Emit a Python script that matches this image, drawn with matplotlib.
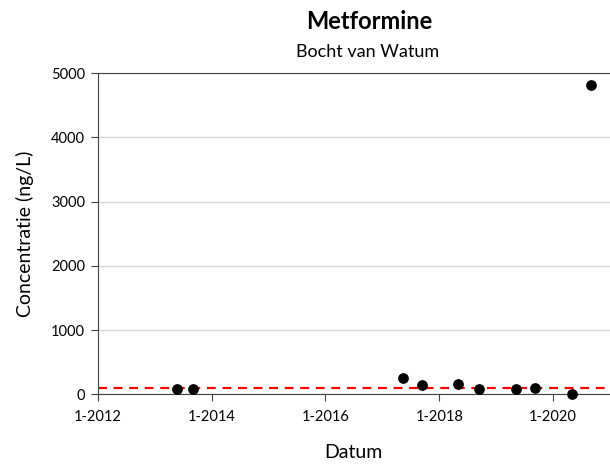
import matplotlib
matplotlib.use("Agg")
import matplotlib.pyplot as plt
import pandas as pd

dates = ["2013-05-25", "2013-09-01", "2017-05-15", "2017-09-12", "2018-05-03",
         "2018-09-13", "2019-05-10", "2019-09-05", "2020-05-03", "2020-09-01"]
values = [83, 83, 254, 140, 156, 83, 83, 93, 0, 4820]
norm_value = 100
x_ticks = ["2012-01-01", "2014-01-01", "2016-01-01", "2018-01-01", "2020-01-01"]
x_tick_labels = ["1-2012", "1-2014", "1-2016", "1-2018", "1-2020"]
y_ticks = [0, 1000, 2000, 3000, 4000, 5000]

plt.rcParams['font.family'] = ['Lato', 'DejaVu Sans']

fig = plt.figure(figsize=(6.10, 4.66), dpi=100)
ax = fig.add_axes([0.16, 0.154, 0.84, 0.689])

d = pd.to_datetime(dates)
ax.axhline(norm_value, color='#ff0000', linestyle=(0, (4, 3)), linewidth=1.6, zorder=2)
ax.scatter(d, values, s=45, color='black', zorder=3, clip_on=False)

ax.set_xlim(pd.Timestamp("2012-01-01"), pd.Timestamp("2021-01-01"))
ax.set_ylim(0, 5000)
ax.set_yticks(y_ticks)
ax.set_yticklabels([str(v) for v in y_ticks])
ax.set_xticks(pd.to_datetime(x_ticks))
ax.set_xticklabels(x_tick_labels)

ax.grid(axis='y', color='#d9d9d9', linewidth=1)
ax.set_axisbelow(True)
ax.spines['right'].set_visible(False)
for s in ['top', 'left', 'bottom']:
    ax.spines[s].set_color('#404040')
ax.tick_params(axis='both', direction='out', length=5, color='#404040', labelsize=10.5, pad=4)
ax.tick_params(axis='x', pad=6)

ax.set_xlabel("Datum", fontsize=14, labelpad=15)
ax.set_ylabel("Concentratie (ng/L)", fontsize=14, labelpad=12)

fig.text(0.606, 0.938, "Metformine", ha='center', va='baseline', fontsize=17, fontweight='bold')
fig.text(0.603, 0.878, "Bocht van Watum", ha='center', va='baseline', fontsize=13)

fig.savefig("out.png", dpi=100)
